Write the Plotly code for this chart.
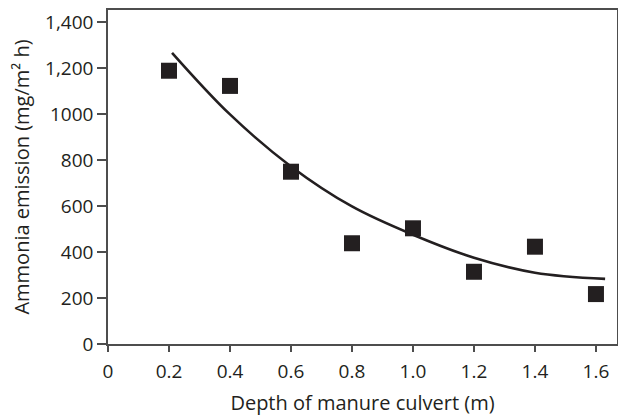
import plotly.graph_objects as go

# measured points
depth = [0.2, 0.4, 0.6, 0.8, 1.0, 1.2, 1.4, 1.6]
emission = [1188, 1122, 749, 438, 503, 314, 423, 217]

# fitted curve
curve_x = [0.21, 0.4, 0.6, 0.8, 1.0, 1.2, 1.4, 1.63]
curve_y = [1266, 998, 772, 598, 475, 375, 310, 283]

y_ticks = [0, 200, 400, 600, 800, 1000, 1200, 1400]
y_labels = ["0", "200", "400", "600", "800", "1000", "1,200", "1,400"]
x_ticks = [0, 0.2, 0.4, 0.6, 0.8, 1.0, 1.2, 1.4, 1.6]
x_labels = ["0", "0.2", "0.4", "0.6", "0.8", "1.0", "1.2", "1.4", "1.6"]

ink = "#231f20"
frame = "#4d4d4d"

fig = go.Figure()
fig.add_trace(go.Scatter(
    x=curve_x, y=curve_y,
    mode="lines",
    line=dict(color=ink, width=2.6, shape="spline", smoothing=1.0),
    hoverinfo="skip",
))
fig.add_trace(go.Scatter(
    x=depth, y=emission,
    mode="markers",
    marker=dict(symbol="square", size=16, color=ink),
))

# page body adds an 8px margin, so the figure is a bit smaller than the window
fig.update_layout(
    width=618, height=411,
    margin=dict(l=100, r=9, t=2, b=75),
    paper_bgcolor="white",
    plot_bgcolor="white",
    showlegend=False,
    font=dict(family="Open Sans", size=19, color=ink),
)

fig.update_xaxes(
    range=[0, 1.669],
    tickvals=x_ticks, ticktext=x_labels,
    ticks="outside", ticklen=6, tickwidth=1.5, tickcolor=frame,
    ticklabelstandoff=3,
    showline=True, linecolor=frame, linewidth=1.5, mirror=True,
    showgrid=False, zeroline=False, automargin=False,
    title=dict(text="Depth of manure culvert (m)", font=dict(size=20), standoff=13),
)
fig.update_yaxes(
    range=[0, 1452],
    tickvals=y_ticks, ticktext=y_labels,
    ticks="outside", ticklen=9, tickwidth=1.5, tickcolor=frame,
    showline=True, linecolor=frame, linewidth=1.5, mirror=True,
    showgrid=False, zeroline=False, automargin=False,
    title=dict(text="Ammonia emission (mg/m² h)", font=dict(size=20), standoff=16),
)

fig.write_html("out.html")
